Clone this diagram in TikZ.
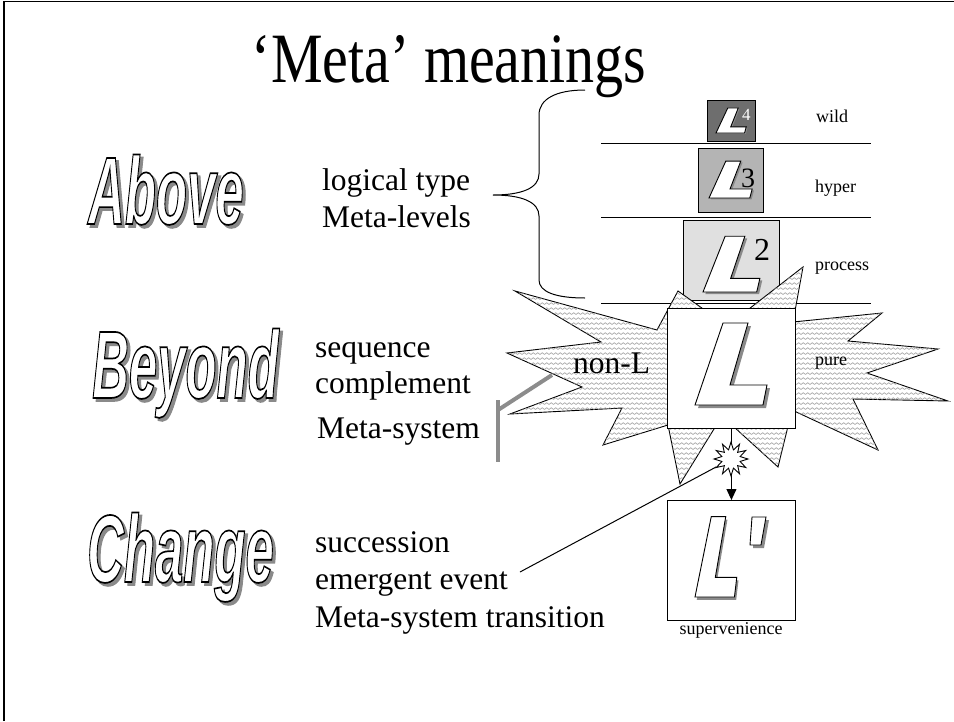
\documentclass[tikz,border=0pt]{standalone}
\usepackage{fontspec}
\setmainfont{Liberation Serif}
\newfontfamily\wordart{Liberation Sans}
\usepackage{graphicx}
\usetikzlibrary{patterns,shapes.geometric,arrows.meta}

\definecolor{boxfour}{HTML}{6E6E6E}
\definecolor{boxthree}{HTML}{B4B4B4}
\definecolor{boxtwo}{HTML}{E0E0E0}
\definecolor{shadowgray}{HTML}{8A8A8A}
\definecolor{thickgray}{HTML}{8C8C8C}
\definecolor{wavecolor}{HTML}{9A9A9A}

\pgfdeclarepatternformonly{wavy}{\pgfpoint{-1pt}{-1pt}}{\pgfpoint{5.5pt}{6pt}}{\pgfpoint{4.5pt}{5pt}}{
  \pgfsetlinewidth{0.6pt}
  \pgfpathmoveto{\pgfpoint{0pt}{1.5pt}}
  \pgfpathcurveto{\pgfpoint{1.1pt}{1.5pt}}{\pgfpoint{1.1pt}{3.3pt}}{\pgfpoint{2.25pt}{3.3pt}}
  \pgfpathcurveto{\pgfpoint{3.4pt}{3.3pt}}{\pgfpoint{3.4pt}{1.5pt}}{\pgfpoint{4.5pt}{1.5pt}}
  \pgfusepath{stroke}
}

\newcommand\wordartword[1]{\scalebox{0.53}[1]{\fontsize{96}{100}\wordart\bfseries\itshape\color{white}\special{pdf:literal direct 0 G 1.7 w 2 Tr}#1\special{pdf:literal direct 0 Tr}}}
\newcommand\wordartshadow[1]{\scalebox{0.53}[1]{\fontsize{96}{100}\wordart\bfseries\itshape\color{shadowgray}\special{pdf:literal direct 1.7 w 2 Tr}#1\special{pdf:literal direct 0 Tr}}}

\tikzset{
  txt/.style={anchor=base west, inner sep=0pt, font=\fontsize{31.5}{37}\selectfont},
  small/.style={anchor=base west, inner sep=0pt, font=\fontsize{18}{20}\selectfont},
  plainline/.style={line width=1pt},
  levelbox/.style={draw, line width=0.9pt, anchor=north west, inner sep=0pt},
  pics/Lglyph/.style={code={
    \fill[shadowgray] (31,-79) -- (56,-79) -- (38,-17) -- (75,-17) -- (71,3) -- (3,3) -- cycle;
    \draw[fill=white, line width=0.9pt, line join=miter] (28,-82) -- (53,-82) -- (35,-20) -- (72,-20) -- (68,0) -- (0,0) -- cycle;
  }}
}

\begin{document}
\begin{tikzpicture}[x=1pt,y=-1pt]
\useasboundingbox (0,0) rectangle (954,721);

% frame
\draw[line width=1.6pt] (4,721) -- (4,1.5) -- (954,1.5);

% title
\node[anchor=base, inner sep=0pt] (ttl) at (449,82) {\scalebox{1}[1.22]{\fontsize{58}{62}\selectfont ‘Meta’ meanings}};

% word art
\node[anchor=base west, inner sep=0pt] (aboveS) at (91,227) {\wordartshadow{Above}};
\node[anchor=base west, inner sep=0pt] (above) at (88,224) {\wordartword{Above}};
\node[anchor=base west, inner sep=0pt] (beyondS) at (95,401) {\wordartshadow{Beyond}};
\node[anchor=base west, inner sep=0pt] (beyond) at (92,398) {\wordartword{Beyond}};
\node[anchor=base west, inner sep=0pt] (changeS) at (90,585) {\wordartshadow{Change}};
\node[anchor=base west, inner sep=0pt] (change) at (87,582) {\wordartword{Change}};

% left texts
\node[txt] (t1) at (322,190) {logical type};
\node[txt] (t2) at (322,227) {Meta-levels};
\node[txt] (t3) at (315,357) {sequence};
\node[txt] (t4) at (315,393) {complement};
\node[txt] (t5) at (317,438) {Meta-system};
\node[txt] (t6) at (315,552) {succession};
\node[txt] (t7) at (315,589) {emergent event};
\node[txt] (t8) at (315,627) {Meta-system transition};

% level lines
\draw[plainline] (601,143) -- (871,143);
\draw[plainline] (601,217) -- (871,217);
\draw[plainline] (601,303) -- (871,303);

% brace
\draw[plainline] (585,90) .. controls (556,90) and (539,99) .. (539,115) -- (539,174)
  .. controls (539,188) and (522,195) .. (493,195)
  .. controls (522,195) and (539,202) .. (539,216) -- (539,280)
  .. controls (539,292) and (556,298) .. (585,298);

% level boxes
\node[levelbox, fill=boxfour, minimum width=48, minimum height=41] (b4) at (707,100) {};
\pic[xscale=0.42, yscale=0.305] (g4) at (716,133) {Lglyph};
\node[anchor=base west, inner sep=0pt, text=white, font=\fontsize{17}{18}\selectfont] (s4) at (742,120) {4};

\node[levelbox, fill=boxthree, minimum width=65, minimum height=64] (b3) at (698,148) {};
\pic[xscale=0.6, yscale=0.45] (g3) at (709,198) {Lglyph};
\node[anchor=base west, inner sep=0pt, font=\fontsize{28}{30}\selectfont] (s3) at (741,187) {3};

\node[levelbox, fill=boxtwo, minimum width=96, minimum height=80] (b2) at (683,220) {};
\pic[xscale=0.79, yscale=0.68] (g2) at (703,292) {Lglyph};
\node[anchor=base west, inner sep=0pt, font=\fontsize{32}{34}\selectfont] (s2) at (754,260) {2};

\node[small] (wild) at (816,122) {wild};
\node[small] (hyper) at (815,192) {hyper};
\node[small] (process) at (815,270) {process};

% explosion star
\path[draw, line width=0.9pt, line join=miter, fill=white, postaction={pattern=wavy, pattern color=wavecolor}]
  (515,291) -- (657,330) -- (678,291) -- (727,326) -- (803,267) -- (793,322) -- (882,313) -- (848,341)
  -- (938,349) -- (867,373) -- (948,401) -- (853,399) -- (878,450) -- (792,410) -- (778,467) -- (722,416)
  -- (680,484) -- (668,425) -- (603,445) -- (622,408) -- (510,414) -- (582,387) -- (507,353) -- (601,342) -- cycle;

\node[txt] (nonL) at (573,373) {non-L};
\node[small] (pure) at (815,365) {pure};

% main L box
\node[levelbox, fill=white, minimum width=128, minimum height=120] (bL) at (667,308) {};
\pic (gL) at (695,405) {Lglyph};

% L' box
\node[levelbox, fill=white, minimum width=128, minimum height=120] (bLp) at (667,500) {};
\pic[xscale=0.58, yscale=0.98] (gLp) at (695,597) {Lglyph};
\fill[shadowgray] (755,520) -- (769,520) -- (764,548) -- (753,548) -- cycle;
\draw[fill=white, line width=0.9pt, line join=miter] (752,517) -- (766,517) -- (761,545) -- (750,545) -- cycle;
\node[anchor=base, inner sep=0pt, font=\fontsize{18}{20}\selectfont] (superv) at (731,634) {supervenience};

% arrow and burst
\draw[line width=1pt, -{Triangle[width=10pt,length=11pt]}] (bL.south) -- (bLp.north);
\node[star, star points=12, star point ratio=1.8, minimum size=34, draw, line width=0.9pt, fill=white, inner sep=0pt] (burst) at (731,459) {};

% emergent event connector
\coordinate (ee) at (520,572);
\draw[line width=1pt] (ee) -- (burst);

% gray thick line
\coordinate (gl1) at (552,375);
\coordinate (gl2) at (498,410);
\coordinate (gl3) at (498,400);
\coordinate (gl4) at (498,462);
\draw[thickgray, line width=4pt] (gl1) -- (gl2);
\draw[thickgray, line width=4pt] (gl3) -- (gl4);
\end{tikzpicture}
\end{document}
